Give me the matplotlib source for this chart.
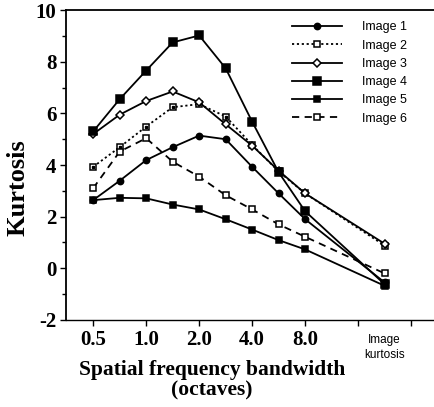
import matplotlib
matplotlib.use("Agg")
import matplotlib.pyplot as plt
from matplotlib.ticker import MultipleLocator

# Bandwidth positions (half-octave steps: 0.5 ... 8.0), then image kurtosis
bandwidth_pos = [0, 1, 2, 3, 4, 5, 6, 7, 8]
kurt_pos = 11
tick_pos = [0, 2, 4, 6, 8]
tick_labels = ["0.5", "1.0", "2.0", "4.0", "8.0"]

image1 = [2.64, 3.39, 4.19, 4.69, 5.14, 5.00, 3.93, 2.90, 1.90]
image2 = [3.93, 4.69, 5.49, 6.24, 6.36, 5.88, 4.78, 3.75, 2.90]
image3 = [5.20, 5.95, 6.48, 6.85, 6.43, 5.58, 4.75, 3.78, 2.90]
image4 = [5.30, 6.55, 7.66, 8.75, 9.02, 7.75, 5.68, 3.72, 2.21]
image5 = [2.64, 2.73, 2.71, 2.47, 2.28, 1.90, 1.50, 1.09, 0.73]
image6 = [3.10, 4.52, 5.04, 4.13, 3.55, 2.83, 2.28, 1.70, 1.22]
image_kurtosis = [-0.55, 0.88, 0.95, -0.62, -0.68, -0.20]

names = ["Image 1", "Image 2", "Image 3", "Image 4", "Image 5", "Image 6"]
series = [image1, image2, image3, image4, image5, image6]

styles = [
    dict(ls="-", marker="o", ms=4.5, mfc="black", mec="black"),
    dict(ls=(0, (1.2, 1.5)), marker="s", ms=5, mfc="white", mec="black"),
    dict(ls="-", marker="D", ms=3.6, mfc="white", mec="black"),
    dict(ls="-", marker="s", ms=6, mfc="black", mec="black"),
    dict(ls="-", marker="s", ms=5, mfc="black", mec="black"),
    dict(ls=(0, (4, 3)), marker="s", ms=5, mfc="white", mec="black"),
]

fig = plt.figure(figsize=(4.35, 4.07), dpi=100)
ax = fig.add_axes([0.152, 0.214, 0.848, 0.761])

for name, vals, kv, st in zip(names, series, image_kurtosis, styles):
    xs = bandwidth_pos + [kurt_pos]
    ys = vals + [kv]
    ax.plot(xs, ys, color="black", lw=1.3, ls=st["ls"], marker=st["marker"],
            ms=st["ms"], mfc=st["mfc"], mec=st["mec"], mew=1.1, label=name)
    if name == "Image 2":
        ax.plot(xs, ys, ls="none", marker="s", ms=1.6, color="black")

ax.set_xlim(-1.02, 12.9)
ax.set_ylim(-2, 10)
ax.spines["right"].set_visible(False)
ax.spines["top"].set_linewidth(1.3)
ax.spines["left"].set_linewidth(1.3)
ax.spines["bottom"].set_linewidth(1.0)

ax.set_xticks([0, 2, 4, 6, 8, 10, 12])
ax.set_xticklabels(tick_labels + ["", ""], family="Liberation Serif",
                   fontweight="bold", fontsize=15)
ax.yaxis.set_minor_locator(MultipleLocator(1))
ax.set_yticks(range(-2, 11, 2))
ax.set_yticklabels([str(v) for v in range(-2, 11, 2)], family="Liberation Serif",
                   fontweight="bold", fontsize=15)
ax.tick_params(axis="both", direction="out", length=4, width=1, pad=3)
ax.tick_params(axis="y", which="minor", direction="out", length=3, width=1)

ax.text(kurt_pos, -2.55, "Image\nkurtosis", ha="center", va="top",
        family="Liberation Sans", fontsize=8.5, linespacing=1.3)

ax.set_ylabel("Kurtosis", family="Liberation Serif", fontweight="bold",
              fontsize=19)
ax.yaxis.set_label_coords(-0.10, 0.426)
ax.set_xlabel("Spatial frequency bandwidth\n(octaves)", family="Liberation Serif",
              fontweight="bold", fontsize=15.5, linespacing=1.0)
ax.xaxis.set_label_coords(0.396, -0.13)
ax.xaxis.label.set_va("top")

leg = ax.legend(loc="upper right", bbox_to_anchor=(0.955, 1.0), frameon=False,
                prop=dict(family="Liberation Sans", size=9), handlelength=4.0,
                handletextpad=1.6, labelspacing=0.5)

fig.savefig("out.png", dpi=100)
